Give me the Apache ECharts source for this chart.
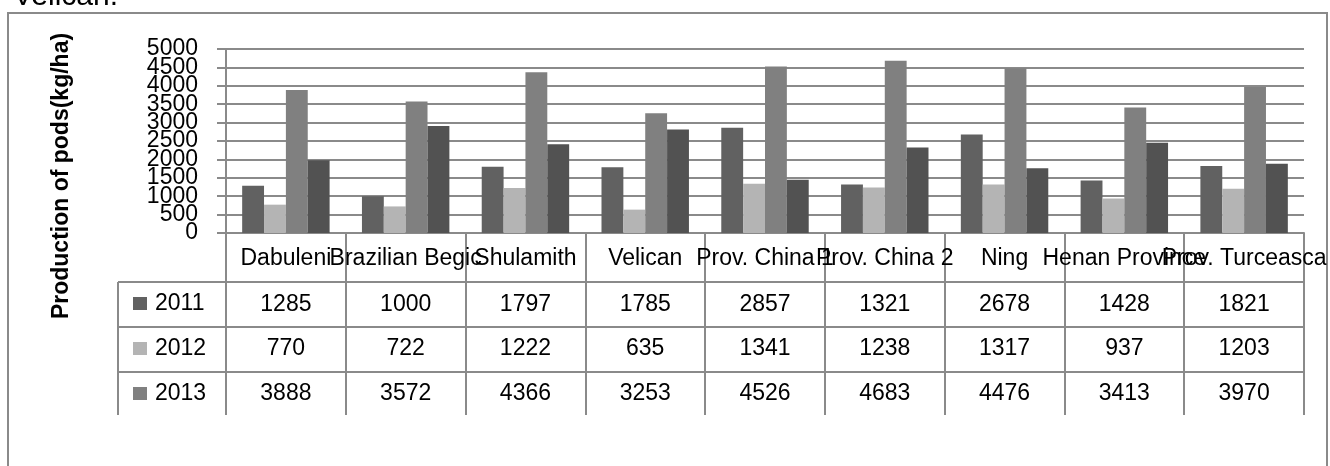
<!DOCTYPE html>
<html>
<head>
<meta charset="utf-8">
<script src="https://cdn.jsdelivr.net/npm/echarts@6/dist/echarts.min.js"></script>
<style>
  html, body { margin: 0; padding: 0; background: #fff; }
  #chart { width: 1330px; height: 466px; }
</style>
</head>
<body>
<div id="chart"></div>
<script>
// Pod production per variety, three seasons plus a fourth bar series
const categories = ['Dabuleni', 'Brazilian Begic', 'Shulamith', 'Velican', 'Prov. China 1',
  'Prov. China 2', 'Ning', 'Henan Province', 'Prov. Turceasca'];
const years = ['2011', '2012', '2013'];
const values2011 = [1285, 1000, 1797, 1785, 2857, 1321, 2678, 1428, 1821];
const values2012 = [770, 722, 1222, 635, 1341, 1238, 1317, 937, 1203];
const values2013 = [3888, 3572, 4366, 3253, 4526, 4683, 4476, 3413, 3970];
const values4 = [1980, 2905, 2410, 2815, 1445, 2320, 1760, 2455, 1885];
const yMin = 0, yMax = 5000, yStep = 500;

const tableRows = [values2011, values2012, values2013];

// layout
const GRID = { left: 226, top: 49, width: 1078, height: 184 };
const GRID_BOTTOM = GRID.top + GRID.height;
const TABLE_LEFT = 118;
const TABLE_BOTTOM = 415;
const ROW_LINES = [282, 327, 372];
const ROW_CENTERS = [305, 349, 394];
const LINE = '#8a8a8a';
const FONT = 'Liberation Sans, Arial, sans-serif';
const colors = ['#616161', '#b4b4b4', '#808080', '#525252'];

const chart = echarts.init(document.getElementById('chart'), null, { renderer: 'canvas' });

// extra category axes carry the value rows of the data table
const rowAxes = tableRows.map((row, r) => ({
  type: 'category',
  gridIndex: 0,
  position: 'bottom',
  data: categories,
  axisLine: { show: false },
  axisTick: { show: false },
  axisLabel: {
    interval: 0,
    margin: ROW_CENTERS[r] - GRID_BOTTOM,
    verticalAlign: 'middle',
    fontFamily: FONT, fontSize: 23, color: '#000',
    formatter: (v, i) => String(row[i])
  }
}));

// the tightly packed value labels are split over two overlaid axes
// (thousands on one, half-thousands on the other) so none gets dropped
const yLabelBase = { margin: 28, fontFamily: FONT, fontSize: 23, color: '#000', hideOverlap: false };
const isThousand = v => Math.round(v) % 1000 === 0;

const graphics = [
  // outer frame
  { type: 'rect', shape: { x: 8, y: 13, width: 1319, height: 480 }, style: { fill: 'none', stroke: LINE, lineWidth: 2 }, silent: true },
  // caption line above the frame
  { type: 'text', x: 13, y: -3, style: { text: 'Velican.', fontFamily: FONT, fontSize: 30, fill: '#000', verticalAlign: 'middle', align: 'left' } },
  // axis title
  { type: 'text', x: 62, y: 176, rotation: Math.PI / 2,
    style: { text: 'Production of pods(kg/ha)', fontFamily: FONT, fontSize: 23, fontWeight: 'bold', fill: '#000', align: 'center', verticalAlign: 'middle' } },
  // data table left border
  { type: 'line', shape: { x1: TABLE_LEFT, y1: ROW_LINES[0], x2: TABLE_LEFT, y2: TABLE_BOTTOM }, style: { stroke: LINE, lineWidth: 2 } }
];
ROW_LINES.forEach(y => graphics.push({
  type: 'line', shape: { x1: TABLE_LEFT, y1: y, x2: GRID.left + GRID.width, y2: y }, style: { stroke: LINE, lineWidth: 2 }
}));

const seriesData = [values2011, values2012, values2013, values4];
const seriesNames = years.concat(['2014']);

chart.setOption({
  animation: false,
  backgroundColor: '#fff',
  color: colors,
  grid: { left: GRID.left, top: GRID.top, width: GRID.width, height: GRID.height, containLabel: false },
  legend: {
    data: years,
    orient: 'vertical',
    left: 128,
    top: 287,
    itemWidth: 14,
    itemHeight: 13,
    itemGap: 22,
    icon: 'rect',
    selectedMode: false,
    textStyle: { fontFamily: FONT, fontSize: 23, color: '#000', padding: [0, 0, 0, 3] }
  },
  xAxis: [{
    type: 'category',
    data: categories,
    position: 'bottom',
    axisLine: { show: true, lineStyle: { color: LINE, width: 2 } },
    axisTick: { show: true, interval: 0, length: TABLE_BOTTOM - GRID_BOTTOM, lineStyle: { color: LINE, width: 2 } },
    axisLabel: { interval: 0, margin: 26, verticalAlign: 'middle', fontFamily: FONT, fontSize: 23, color: '#000' }
  }].concat(rowAxes),
  yAxis: [{
    type: 'value',
    position: 'left',
    min: yMin, max: yMax, interval: yStep,
    axisLine: { show: true, lineStyle: { color: LINE, width: 2 } },
    axisTick: { show: true, length: 9, lineStyle: { color: LINE, width: 2 } },
    splitLine: { show: true, lineStyle: { color: LINE, width: 2 } },
    axisLabel: Object.assign({}, yLabelBase, {
      showMinLabel: true, showMaxLabel: true,
      formatter: v => isThousand(v) ? String(v) : ''
    })
  }, {
    type: 'value',
    position: 'left',
    offset: 0,
    min: yMin, max: yMax, interval: yStep,
    axisLine: { show: false },
    axisTick: { show: false },
    splitLine: { show: false },
    axisLabel: Object.assign({}, yLabelBase, {
      showMinLabel: false, showMaxLabel: false,
      formatter: v => isThousand(v) ? '' : String(v)
    })
  }],
  graphic: graphics,
  series: seriesData.map((d, i) => ({
    type: 'bar',
    name: seriesNames[i],
    data: d,
    yAxisIndex: 0,
    barGap: '0%',
    barCategoryGap: '27%',
    itemStyle: { color: colors[i] }
  }))
});
</script>
</body>
</html>
